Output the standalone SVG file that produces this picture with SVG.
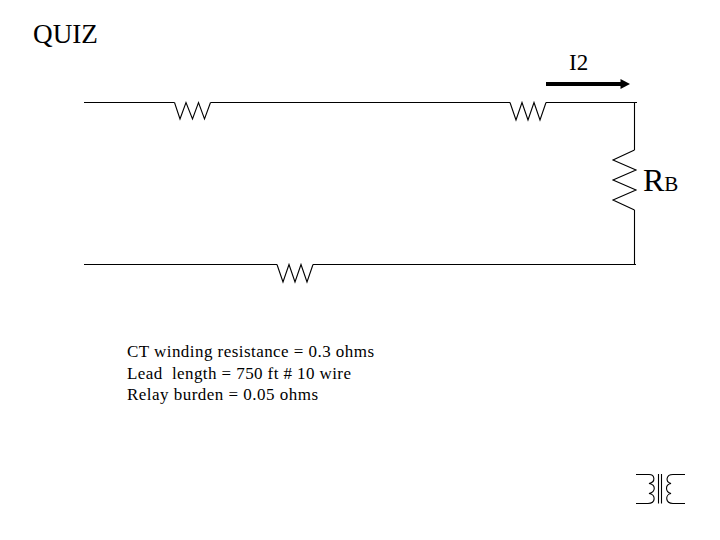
<svg xmlns="http://www.w3.org/2000/svg" width="720" height="540" viewBox="0 0 720 540">
<style>
.w{fill:none;stroke:#000;stroke-width:1.1;stroke-linejoin:miter}
.t{font-family:"Liberation Serif","Times New Roman",serif;fill:#000}
.s{font-size:17px}
</style>
<rect width="720" height="540" fill="#fff"/>
<g id="connectors">
<path class="w" d="M84 102.500H174.500M210.500 102.500H510M546 102.500H637"/>
<path class="w" d="M634.500 102.500V150M634.500 210V264.500M84 264.500H277M313 264.500H636"/>
</g>
<g id="r1"><path class="w" d="M174.500 102.500L180 119L186 102.500L192.500 119L198.500 102.500L204.500 119L210.500 102.500"/></g>
<g id="r2"><path class="w" d="M510 102.500L516 120L522 102.500L528 120L534 102.500L540 120L546 102.500"/></g>
<g id="r3"><path class="w" d="M277 264.500L283 282L289 264.500L295 282L301 264.500L307 282L313 264.500"/></g>
<g id="rb"><path class="w" d="M634.500 150L613 160L636 170L613 180L636 190L613 200L634.500 210"/>
<text class="t" x="643" y="191" font-size="32">R<tspan font-size="21">B</tspan></text></g>
<g id="i2"><path fill="none" stroke="#000" stroke-width="4" d="M546 84H622"/><path d="M620.500 79L630 84L620.500 89Z"/>
<text class="t" x="569" y="69.500" font-size="23">I2</text></g>
<g id="title"><text class="t" x="33" y="43" font-size="27.200">QUIZ</text></g>
<g id="notes">
<text class="t s" x="127" y="357" textLength="247">CT winding resistance = 0.3 ohms</text>
<text class="t s" x="127" y="378.500" textLength="224" xml:space="preserve">Lead  length = 750 ft # 10 wire</text>
<text class="t s" x="127" y="399.500" textLength="191">Relay burden = 0.05 ohms</text>
</g>
<g id="transformer">
<path class="w" d="M636 474.500H649C655 474.500 656 482 649 483.500C656 484.500 656 492 649 493.500C656 494.500 656 503.500 648 503.500H636"/>
<path class="w" d="M685 474.500H673C666 474.500 665 482 671 483.500C665 484.500 665 492 671 493.500C665 494.500 665 503.500 673 503.500H685"/>
<path class="w" d="M658.500 474V503.500M661.500 474V503.500"/>
</g>
</svg>
